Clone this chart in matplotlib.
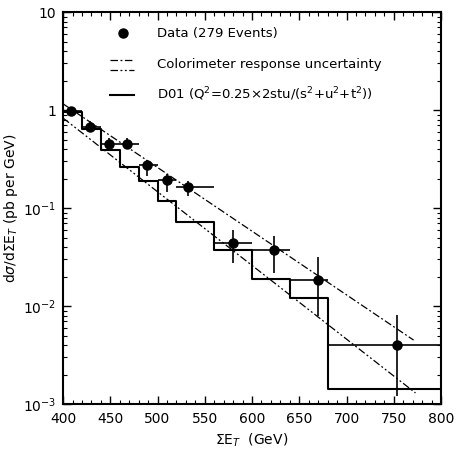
import numpy as np
import matplotlib
matplotlib.use("Agg")
import matplotlib.pyplot as plt
from matplotlib.ticker import FixedLocator, MultipleLocator, LogLocator, NullFormatter

# ---- data ----
bin_edges = [400, 420, 440, 460, 480, 500, 520, 560, 600, 640, 680, 800]
data_x = [408, 429, 449, 468, 489, 510, 532, 580, 623, 670, 753]
data_y = [0.98, 0.68, 0.455, 0.455, 0.277, 0.195, 0.165, 0.044, 0.0375, 0.0184, 0.0040]
data_ylo = [0.90, 0.60, 0.40, 0.40, 0.215, 0.146, 0.134, 0.0275, 0.022, 0.0079, 0.0012]
data_yhi = [1.07, 0.78, 0.52, 0.52, 0.307, 0.224, 0.190, 0.060, 0.052, 0.032, 0.0082]
theory = [0.95, 0.64, 0.39, 0.263, 0.189, 0.119, 0.0727, 0.037, 0.0191, 0.012, 0.00142]
upper_x = [400, 771]
upper_y = [1.16, 0.0045]
lower_x = [400, 773]
lower_y = [0.83, 0.0013]
yticks = [1e-3, 1e-2, 1e-1, 1, 10]
ytick_labels = [r"$10^{-3}$", r"$10^{-2}$", r"$10^{-1}$", "1", "10"]
xticks = [400, 450, 500, 550, 600, 650, 700, 750, 800]

fig = plt.figure(figsize=(4.57, 4.50), dpi=100)
ax = fig.add_axes([0.138, 0.102, 0.827, 0.871])
ax.set_yscale("log")
ax.set_xlim(400, 800)
ax.set_ylim(1e-3, 10)

# histogram (theory)
hx = bin_edges
hy = theory + [theory[-1]]
ax.step(hx, hy, where="post", color="black", lw=1.5)

# uncertainty lines
ax.plot(upper_x, upper_y, color="black", lw=0.9, dashes=(6, 2, 1.5, 2))
ax.plot(lower_x, lower_y, color="black", lw=0.9, dashes=(6, 2, 1.5, 2, 1.5, 2))

# data points
lo = np.array(bin_edges[:-1])
hi = np.array(bin_edges[1:])
xs = np.array(data_x)
ys = np.array(data_y)
xerr = np.vstack([xs - lo, hi - xs])
yerr = np.vstack([ys - np.array(data_ylo), np.array(data_yhi) - ys])
ax.errorbar(xs, ys, xerr=xerr, yerr=yerr, fmt="o", color="black",
            ms=6.5, elinewidth=1.2, capsize=0)

# axes ticks
ax.yaxis.set_major_locator(FixedLocator(yticks))
ax.set_yticklabels(ytick_labels)
ax.yaxis.set_minor_locator(LogLocator(base=10, subs=np.arange(2, 10)))
ax.yaxis.set_minor_formatter(NullFormatter())
ax.xaxis.set_major_locator(FixedLocator(xticks))
ax.xaxis.set_minor_locator(MultipleLocator(10))
ax.tick_params(which="both", direction="in", top=True, right=True, labelsize=10)
ax.tick_params(which="major", length=6, width=1)
ax.tick_params(which="minor", length=3, width=0.8)
ax.tick_params(axis="x", which="major", pad=6)
ax.tick_params(axis="y", which="major", pad=5)
for s in ax.spines.values():
    s.set_linewidth(1.5)

ax.set_xlabel(r"$\Sigma$E$_{T}$  (GeV)", fontsize=10, labelpad=4)
ax.set_ylabel(r"d$\sigma$/d$\Sigma$E$_{T}$ (pb per GeV)", fontsize=10, labelpad=2)

# in-plot legend
tr = fig.transFigure
def fx(px):
    return px / 457.0
def fy(py):
    return 1 - py / 450.0
fig.add_artist(plt.Line2D([fx(123)], [fy(33)], marker="o", ms=6.5, color="black", transform=tr))
fig.text(fx(157), fy(33), "Data (279 Events)", fontsize=9.5, va="center", ha="left")
fig.add_artist(plt.Line2D([fx(110), fx(134)], [fy(60), fy(60)], color="black", lw=0.9,
                          dashes=(6, 2, 1.5, 2), transform=tr))
fig.add_artist(plt.Line2D([fx(110), fx(134)], [fy(70), fy(70)], color="black", lw=0.9,
                          dashes=(6, 2, 1.5, 2, 1.5, 2), transform=tr))
fig.text(fx(157), fy(65), "Colorimeter response uncertainty", fontsize=9.5, va="center", ha="left")
fig.add_artist(plt.Line2D([fx(110), fx(134)], [fy(95), fy(95)], color="black", lw=1.5, transform=tr))
fig.text(fx(157), fy(94), r"D01 (Q$^2$=0.25$\times$2stu/(s$^2$+u$^2$+t$^2$))", fontsize=9.5,
         va="center", ha="left")

fig.savefig("out.png", dpi=100)
